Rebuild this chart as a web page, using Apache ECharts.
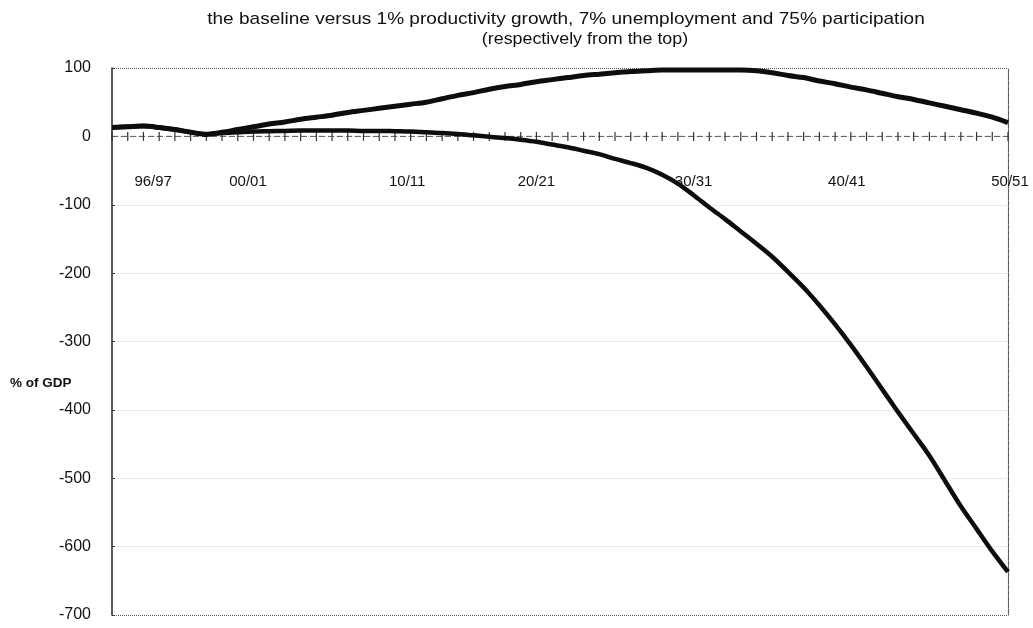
<!DOCTYPE html>
<html>
<head>
<meta charset="utf-8">
<title>Scenario comparison, % of GDP</title>
<script src="https://cdn.jsdelivr.net/npm/echarts@6/dist/echarts.min.js"></script>
<style>
  html, body { margin: 0; padding: 0; background: #fff; }
  #chart { width: 1033px; height: 628px; }
</style>
</head>
<body>
<div id="chart"></div>
<script>
// Financial years on the category axis
const years = [
  '93/94','94/95','95/96','96/97','97/98','98/99','99/00','00/01','01/02','02/03',
  '03/04','04/05','05/06','06/07','07/08','08/09','09/10','10/11','11/12','12/13',
  '13/14','14/15','15/16','16/17','17/18','18/19','19/20','20/21','21/22','22/23',
  '23/24','24/25','25/26','26/27','27/28','28/29','29/30','30/31','31/32','32/33',
  '33/34','34/35','35/36','36/37','37/38','38/39','39/40','40/41','41/42','42/43',
  '43/44','44/45','45/46','46/47','47/48','48/49','49/50','50/51'
];

// Years that carry a label
const labelledYears = ['96/97', '00/01', '10/11', '20/21', '30/31', '40/41', '50/51'];

// Baseline reference (zero difference)
const baseline = [
  0,0,0,0,0,0,0,0,0,0, 0,0,0,0,0,0,0,0,0,0,
  0,0,0,0,0,0,0,0,0,0, 0,0,0,0,0,0,0,0,0,0,
  0,0,0,0,0,0,0,0,0,0, 0,0,0,0,0,0,0,0
];

// Upper scenario, % of GDP
const upperPath = [
  13, 14, 15, 13, 10, 6, 3, 6, 10, 14,
  18, 21, 25, 28, 31, 35, 38, 41, 44, 47,
  50, 55, 60, 64, 69, 73, 76, 80, 83, 86,
  89, 91, 93, 95, 96, 97, 97, 97, 97, 97,
  97, 96, 93, 89, 86, 81, 77, 72, 68, 63,
  58, 54, 49, 44, 39, 34, 28, 20
];

// Lower scenario, % of GDP
const lowerPath = [
  13, 14, 15, 13, 10, 6, 3, 5, 6, 7,
  7.5, 8, 8.5, 8.5, 8.5, 8.5, 8, 8, 7.5, 7,
  6, 5, 3.5, 1.5, -0.5, -2.5, -5, -8, -12, -16,
  -21, -26, -33, -39, -46, -56, -69, -86, -104, -121,
  -139, -157, -176, -198, -221, -247, -275, -305, -337, -370,
  -403, -435, -467, -504, -541, -574, -607, -637
];

// Value axis ticks
const yMin = -700, yMax = 100, yStep = 100;

// Title lines
const titleLines = [
  'the baseline versus 1% productivity growth, 7% unemployment and 75% participation',
  '(respectively from the top)'
];

// small horizontal nudges for a few year labels (px)
const labelNudge = { '96/97': -6, '00/01': 26, '10/11': 28, '40/41': -4, '50/51': 2 };

const FONT = '"Liberation Sans", Arial, sans-serif';

const richStyles = {};
labelledYears.forEach((y, i) => {
  const n = labelNudge[y] || 0;
  richStyles['l' + i] = {
    fontFamily: FONT, fontSize: 15, color: '#111',
    padding: n >= 0 ? [0, 0, 0, 2 * n] : [0, -2 * n, 0, 0]
  };
});

// split-line colours: frame edges darker, inner guides faint
const splitColors = [];
for (let v = yMin; v <= yMax; v += yStep) {
  splitColors.push(v === yMin || v === yMax ? '#555' : '#d4d4d4');
}

const chart = echarts.init(document.getElementById('chart'), null, { renderer: 'canvas' });

chart.setOption({
  backgroundColor: '#fff',
  animation: false,
  graphic: [
    {
      type: 'text',
      x: 566, y: 19,
      scaleX: 1.12,
      style: {
        text: titleLines[0], fontFamily: FONT, fontSize: 17, fill: '#111',
        align: 'center', verticalAlign: 'middle'
      }
    },
    {
      type: 'text',
      x: 585, y: 39,
      scaleX: 1.05,
      style: {
        text: titleLines[1], fontFamily: FONT, fontSize: 17, fill: '#111',
        align: 'center', verticalAlign: 'middle'
      }
    },
    {
      type: 'text',
      left: 10,
      top: 376,
      style: { text: '% of GDP', fontFamily: FONT, fontSize: 13.5, fontWeight: 'bold', fill: '#111' }
    }
  ],
  grid: { left: 112, right: 25, top: 68, bottom: 13, containLabel: false, outerBoundsMode: 'none' },
  xAxis: {
    type: 'category',
    data: years,
    boundaryGap: false,
    position: 'bottom',
    axisLine: { show: false, onZero: false },
    axisTick: { show: false },
    splitLine: { show: false },
    axisLabel: {
      show: true,
      color: '#111',
      fontFamily: FONT,
      fontSize: 15,
      margin: -441,
      hideOverlap: false,
      interval: (idx, name) => labelledYears.indexOf(name) >= 0,
      showMaxLabel: true,
      showMinLabel: true,
      formatter: (name) => {
        const k = labelledYears.indexOf(name);
        return k >= 0 ? '{l' + k + '|' + name + '}' : '';
      },
      rich: richStyles
    }
  },
  yAxis: [{
    type: 'value',
    min: yMin,
    max: yMax,
    interval: yStep,
    axisLine: { show: true, lineStyle: { color: '#222', width: 1.5 } },
    axisTick: { show: true, inside: true, length: 3, lineStyle: { color: '#333' } },
    axisLabel: { margin: 21, fontFamily: FONT, fontSize: 16, color: '#111' },
    splitLine: { show: true, lineStyle: { color: splitColors, type: 'dotted', width: 1 } }
  }, {
    type: 'value',
    position: 'right',
    min: yMin,
    max: yMax,
    interval: yStep,
    axisLine: { show: true, lineStyle: { color: '#555', type: 'dotted', width: 1.2 } },
    axisTick: { show: false },
    axisLabel: { show: false },
    splitLine: { show: false }
  }],
  series: [
    {
      name: 'baseline',
      type: 'line',
      data: baseline,
      showAllSymbol: true,
      symbol: 'rect',
      symbolSize: [1.2, 9],
      itemStyle: { color: '#333' },
      lineStyle: { color: '#555', width: 1, type: [6, 3] },
      z: 2
    },
    {
      name: 'upper',
      type: 'line',
      data: upperPath,
      smooth: 0.3,
      showSymbol: false,
      lineStyle: { color: '#0d0d0d', width: 5 },
      z: 3
    },
    {
      name: 'lower',
      type: 'line',
      data: lowerPath,
      smooth: 0.3,
      showSymbol: false,
      lineStyle: { color: '#0d0d0d', width: 4.5 },
      z: 3
    }
  ]
});
</script>
</body>
</html>
